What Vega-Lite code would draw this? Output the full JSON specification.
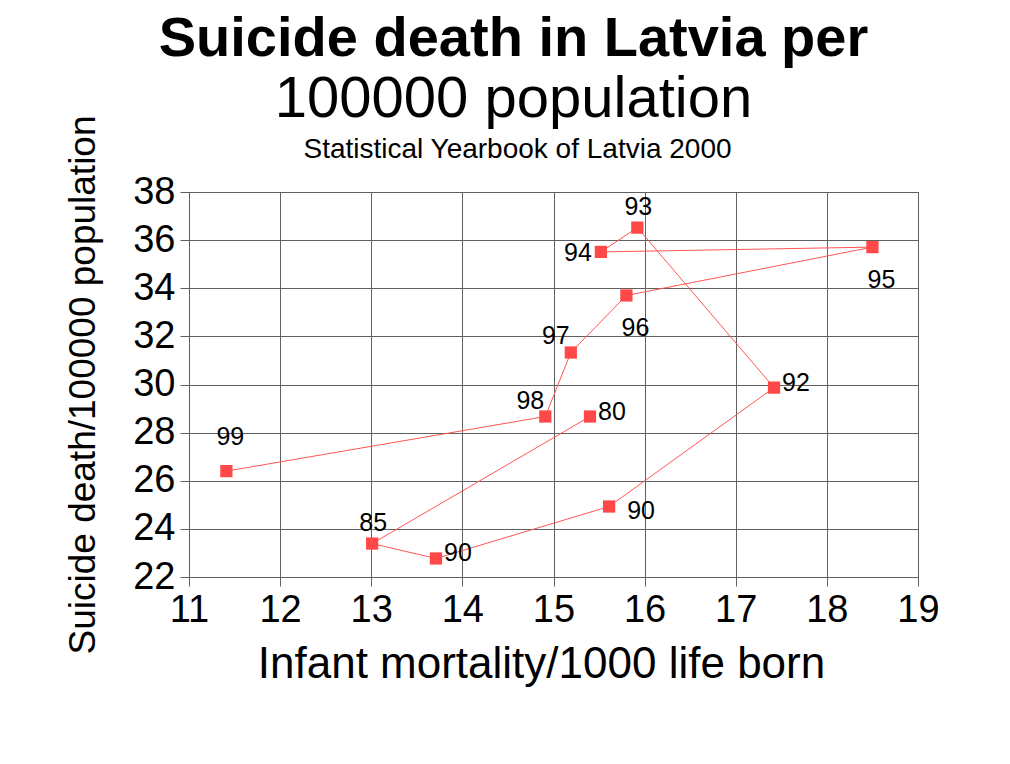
{
  "$schema": "https://vega.github.io/schema/vega-lite/v6.json",
  "autosize": "none",
  "width": 729,
  "height": 385,
  "padding": {"left": 189, "top": 192, "right": 92, "bottom": 187},
  "background": "white",
  "title": {
    "text": "Suicide death in Latvia per",
    "subtitle": "100000 population",
    "anchor": "middle",
    "frame": "group",
    "dx": -40,
    "dy": 21,
    "offset": 6,
    "font": "Liberation Sans",
    "fontSize": 56,
    "fontWeight": "bold",
    "color": "black",
    "subtitleFont": "Liberation Sans",
    "subtitleFontSize": 58,
    "subtitleColor": "black",
    "subtitlePadding": 3
  },
  "data": {
    "values": [
      {"seq": 1, "label": "80", "infant": 15.40, "suicide": 28.67, "pos": "right"},
      {"seq": 2, "label": "85", "infant": 13.01, "suicide": 23.39, "pos": "above"},
      {"seq": 3, "label": "90", "infant": 13.71, "suicide": 22.77, "pos": "right"},
      {"seq": 4, "label": "90", "infant": 15.61, "suicide": 24.93, "pos": "belowright"},
      {"seq": 5, "label": "92", "infant": 17.42, "suicide": 29.87, "pos": "right"},
      {"seq": 6, "label": "93", "infant": 15.92, "suicide": 36.52, "pos": "above"},
      {"seq": 7, "label": "94", "infant": 15.52, "suicide": 35.51, "pos": "left"},
      {"seq": 8, "label": "95", "infant": 18.50, "suicide": 35.71, "pos": "below"},
      {"seq": 9, "label": "96", "infant": 15.80, "suicide": 33.70, "pos": "below"},
      {"seq": 10, "label": "97", "infant": 15.19, "suicide": 31.33, "pos": "aboveleft"},
      {"seq": 11, "label": "98", "infant": 14.91, "suicide": 28.67, "pos": "aboveleft"},
      {"seq": 12, "label": "99", "infant": 11.41, "suicide": 26.40, "pos": "abovefar"}
    ]
  },
  "resolve": {"axis": {"x": "independent"}},
  "layer": [
    {
      "mark": {"type": "line", "color": "#ff5555", "strokeWidth": 1},
      "encoding": {
        "x": {"field": "infant", "type": "quantitative", "scale": {"domain": [11, 19], "nice": false, "zero": false},
              "axis": {"orient": "bottom", "values": [11, 12, 13, 14, 15, 16, 17, 18, 19], "title": "Infant mortality/1000 life born", "grid": true, "titleX": 352}},
        "y": {"field": "suicide", "type": "quantitative", "scale": {"domain": [22, 38], "nice": false, "zero": false},
              "axis": {"values": [22, 24, 26, 28, 30, 32, 34, 36, 38], "title": "Suicide death/100000 population", "grid": true}},
        "order": {"field": "seq", "type": "quantitative"}
      }
    },
    {
      "mark": {"type": "point", "shape": "square", "filled": true, "size": 150, "color": "#ff4848", "opacity": 1},
      "encoding": {
        "x": {"field": "infant", "type": "quantitative",
              "axis": {"orient": "top", "labels": false, "ticks": false, "domain": false, "grid": false, "title": "Statistical Yearbook of Latvia 2000", "titleFontSize": 28, "titlePadding": 29, "titleX": 328, "titleAlign": "center"}},
        "y": {"field": "suicide", "type": "quantitative",
              "axis": {"values": [22, 24, 26, 28, 30, 32, 34, 36, 38], "title": "Suicide death/100000 population", "grid": true}}
      }
    },
    {
      "transform": [{"filter": "datum.pos === 'above'"}],
      "mark": {"type": "text", "align": "center", "baseline": "middle", "dx": 1, "dy": -21},
      "encoding": {
        "x": {"field": "infant", "type": "quantitative", "axis": null},
        "y": {"field": "suicide", "type": "quantitative", "axis": {"values": [22, 24, 26, 28, 30, 32, 34, 36, 38], "title": "Suicide death/100000 population", "grid": true}},
        "text": {"field": "label"}
      }
    },
    {
      "transform": [{"filter": "datum.pos === 'abovefar'"}],
      "mark": {"type": "text", "align": "center", "baseline": "middle", "dx": 4, "dy": -34},
      "encoding": {
        "x": {"field": "infant", "type": "quantitative", "axis": null},
        "y": {"field": "suicide", "type": "quantitative", "axis": {"values": [22, 24, 26, 28, 30, 32, 34, 36, 38], "title": "Suicide death/100000 population", "grid": true}},
        "text": {"field": "label"}
      }
    },
    {
      "transform": [{"filter": "datum.pos === 'aboveleft'"}],
      "mark": {"type": "text", "align": "center", "baseline": "middle", "dx": -15, "dy": -16},
      "encoding": {
        "x": {"field": "infant", "type": "quantitative", "axis": null},
        "y": {"field": "suicide", "type": "quantitative", "axis": {"values": [22, 24, 26, 28, 30, 32, 34, 36, 38], "title": "Suicide death/100000 population", "grid": true}},
        "text": {"field": "label"}
      }
    },
    {
      "transform": [{"filter": "datum.pos === 'left'"}],
      "mark": {"type": "text", "align": "center", "baseline": "middle", "dx": -23, "dy": 1},
      "encoding": {
        "x": {"field": "infant", "type": "quantitative", "axis": null},
        "y": {"field": "suicide", "type": "quantitative", "axis": {"values": [22, 24, 26, 28, 30, 32, 34, 36, 38], "title": "Suicide death/100000 population", "grid": true}},
        "text": {"field": "label"}
      }
    },
    {
      "transform": [{"filter": "datum.pos === 'right'"}],
      "mark": {"type": "text", "align": "center", "baseline": "middle", "dx": 22, "dy": -5},
      "encoding": {
        "x": {"field": "infant", "type": "quantitative", "axis": null},
        "y": {"field": "suicide", "type": "quantitative", "axis": {"values": [22, 24, 26, 28, 30, 32, 34, 36, 38], "title": "Suicide death/100000 population", "grid": true}},
        "text": {"field": "label"}
      }
    },
    {
      "transform": [{"filter": "datum.pos === 'belowright'"}],
      "mark": {"type": "text", "align": "center", "baseline": "middle", "dx": 32, "dy": 5},
      "encoding": {
        "x": {"field": "infant", "type": "quantitative", "axis": null},
        "y": {"field": "suicide", "type": "quantitative", "axis": {"values": [22, 24, 26, 28, 30, 32, 34, 36, 38], "title": "Suicide death/100000 population", "grid": true}},
        "text": {"field": "label"}
      }
    },
    {
      "transform": [{"filter": "datum.pos === 'below'"}],
      "mark": {"type": "text", "align": "center", "baseline": "middle", "dx": 9, "dy": 33},
      "encoding": {
        "x": {"field": "infant", "type": "quantitative", "axis": null},
        "y": {"field": "suicide", "type": "quantitative", "axis": {"values": [22, 24, 26, 28, 30, 32, 34, 36, 38], "title": "Suicide death/100000 population", "grid": true}},
        "text": {"field": "label"}
      }
    }
  ],
  "config": {
    "font": "Liberation Sans",
    "view": {"stroke": "#606060", "strokeWidth": 1},
    "text": {"font": "Liberation Sans", "fontSize": 25, "color": "black"},
    "axis": {
      "domainColor": "#606060",
      "domainWidth": 1,
      "gridColor": "#606060",
      "gridWidth": 1,
      "gridOpacity": 1,
      "tickColor": "#606060",
      "tickSize": 9,
      "tickWidth": 1,
      "labelFont": "Liberation Sans",
      "labelFontSize": 38,
      "labelColor": "black",
      "labelFlush": false,
      "labelOverlap": false,
      "titleFont": "Liberation Sans",
      "titleFontWeight": "normal",
      "titleColor": "black"
    },
    "axisX": {"labelPadding": 5, "titleFontSize": 44, "titlePadding": 13},
    "axisY": {"labelPadding": 5, "titleFontSize": 37, "titlePadding": 30}
  }
}
